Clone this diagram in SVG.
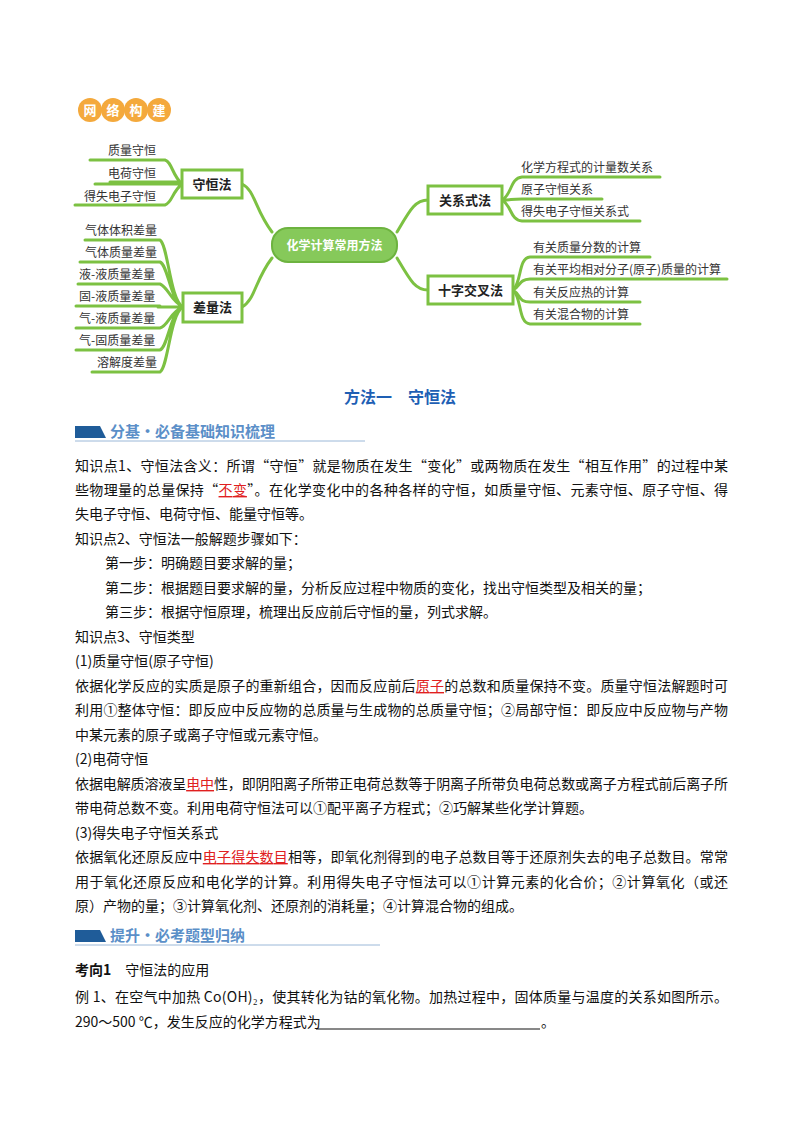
<svg xmlns="http://www.w3.org/2000/svg" width="800" height="1132" viewBox="0 0 800 1132">
<style>
.g{fill:none;stroke:#7cc142;stroke-width:3;stroke-linecap:round}
.box{fill:#fff;stroke:#7cc142;stroke-width:3}
.nb{font-family:"Noto Sans CJK SC",sans-serif;font-size:13px;font-weight:bold;fill:#222;text-anchor:middle}
.lf{font-family:"Noto Sans CJK SC",sans-serif;font-size:12px;fill:#333}
.t{font-family:"Noto Sans CJK SC","Liberation Serif",serif;font-size:14px;fill:#111}
.r{fill:#e02020;text-decoration:underline}
.ban{font-family:"Noto Sans CJK SC",serif;font-size:15px;font-weight:bold;fill:#5b8fc8}
</style>
<rect width="800" height="1132" fill="#fff"/>
<g id="logo">
<circle cx="90" cy="110" r="12" fill="#f4a93c"/><circle cx="113" cy="110" r="12" fill="#f4a93c"/><circle cx="136" cy="110" r="12" fill="#f4a93c"/><circle cx="159" cy="110" r="12" fill="#f4a93c"/>
<g font-family="Noto Sans CJK SC,sans-serif" font-size="13" font-weight="bold" fill="#fff" text-anchor="middle"><text x="90" y="115">网</text><text x="113" y="115">络</text><text x="136" y="115">构</text><text x="159" y="115">建</text></g>
</g>
<g id="connectors">
<path class="g" d="M272 232 C255 210 255 190 242 184"/>
<path class="g" d="M272 258 C255 280 255 300 242 307"/>
<path class="g" d="M397 232 C410 210 415 200 428 200"/>
<path class="g" d="M397 258 C410 280 415 290 428 290"/>
<path class="g" d="M182 184 C172 175 172 162 165 160 M90 160 H165 M182 184 H95 M110 182 H182 M182 184 C172 192 172 203 165 205 M75 205 H165"/>
<path class="g" d="M183 307 C170 300 168 245 160 240 M183 307 C170 300 168 265 160 262 M183 307 C170 300 168 287 160 284 M183 307 H158 M183 307 C170 312 168 326 160 328 M183 307 C170 312 168 347 160 350 M183 307 C170 314 168 368 160 372 M85 240 H160 M80 262 H160 M78 284 H160 M76 306 H160 M76 328 H160 M76 350 H160 M92 372 H160"/>
<path class="g" d="M502 200 C512 195 510 178 522 177 M502 200 C512 200 510 199 522 199 M502 200 C512 206 510 220 522 221 M522 177 H660 M522 199 H602 M522 221 H640"/>
<path class="g" d="M513 290 C522 282 518 258 530 257 M513 290 C522 285 518 280 530 279 M513 290 C522 296 518 302 530 302 M513 290 C522 298 518 323 530 324 M530 257 H650 M530 279 H727 M530 302 H640 M530 324 H640"/>
</g>
<g id="center"><rect x="272" y="228" width="125" height="34" rx="16" fill="#86c95a" stroke="#6db33f" stroke-width="2"/><text x="334.5" y="250" class="nb" fill="#fff" style="fill:#fff;font-size:12px">化学计算常用方法</text></g>
<g id="shouheng"><rect class="box" x="182" y="170" width="60" height="28"/><text class="nb" x="212" y="189">守恒法</text></g>
<g id="chaliang"><rect class="box" x="183" y="293" width="59" height="29"/><text class="nb" x="212.5" y="312">差量法</text></g>
<g id="guanxi"><rect class="box" x="428" y="186" width="74" height="28"/><text class="nb" x="465" y="205">关系式法</text></g>
<g id="shizi"><rect class="box" x="428" y="276" width="85" height="28"/><text class="nb" x="470.5" y="295">十字交叉法</text></g>
<g id="leaves">
<text class="lf" x="108" y="155">质量守恒</text><text class="lf" x="108" y="178">电荷守恒</text><text class="lf" x="84" y="201">得失电子守恒</text>
<text class="lf" x="85" y="235">气体体积差量</text><text class="lf" x="85" y="257">气体质量差量</text><text class="lf" x="79" y="279">液-液质量差量</text><text class="lf" x="79" y="301">固-液质量差量</text><text class="lf" x="79" y="323">气-液质量差量</text><text class="lf" x="79" y="345">气-固质量差量</text><text class="lf" x="97" y="367">溶解度差量</text>
<text class="lf" x="521" y="172">化学方程式的计量数关系</text><text class="lf" x="521" y="194">原子守恒关系</text><text class="lf" x="521" y="216">得失电子守恒关系式</text>
<text class="lf" x="533" y="252">有关质量分数的计算</text><text class="lf" x="533" y="274">有关平均相对分子(原子)质量的计算</text><text class="lf" x="533" y="297">有关反应热的计算</text><text class="lf" x="533" y="319">有关混合物的计算</text>
</g>
<text x="400" y="403" text-anchor="middle" font-family="Noto Sans CJK SC,serif" font-size="16" font-weight="bold" fill="#1e5fb4">方法一　守恒法</text>
<g id="banner1"><polygon points="75,426 100,426 106,438 75,438" fill="#1f5c99"/><line x1="75" y1="441" x2="365" y2="441" stroke="#9bb8d8" stroke-width="1"/><text class="ban" x="110" y="437">分基·必备基础知识梳理</text></g>
<g id="body">
<text class="t" x="75" y="471" textLength="653" lengthAdjust="spacing">知识点1、守恒法含义：所谓“守恒”就是物质在发生“变化”或两物质在发生“相互作用”的过程中某</text>
<text class="t" x="75" y="495" textLength="653" lengthAdjust="spacing">些物理量的总量保持“<tspan class="r">不变</tspan>”。在化学变化中的各种各样的守恒，如质量守恒、元素守恒、原子守恒、得</text>
<text class="t" x="75" y="519">失电子守恒、电荷守恒、能量守恒等。</text>
<text class="t" x="75" y="544">知识点2、守恒法一般解题步骤如下：</text>
<text class="t" x="105" y="568">第一步：明确题目要求解的量；</text>
<text class="t" x="105" y="593">第二步：根据题目要求解的量，分析反应过程中物质的变化，找出守恒类型及相关的量；</text>
<text class="t" x="105" y="617">第三步：根据守恒原理，梳理出反应前后守恒的量，列式求解。</text>
<text class="t" x="75" y="642">知识点3、守恒类型</text>
<text class="t" x="75" y="666">(1)质量守恒(原子守恒)</text>
<text class="t" x="75" y="691" textLength="653" lengthAdjust="spacing">依据化学反应的实质是原子的重新组合，因而反应前后<tspan class="r">原子</tspan>的总数和质量保持不变。质量守恒法解题时可</text>
<text class="t" x="75" y="715" textLength="653" lengthAdjust="spacing">利用①整体守恒：即反应中反应物的总质量与生成物的总质量守恒；②局部守恒：即反应中反应物与产物</text>
<text class="t" x="75" y="740">中某元素的原子或离子守恒或元素守恒。</text>
<text class="t" x="75" y="764">(2)电荷守恒</text>
<text class="t" x="75" y="789" textLength="653" lengthAdjust="spacing">依据电解质溶液呈<tspan class="r">电中</tspan>性，即阴阳离子所带正电荷总数等于阴离子所带负电荷总数或离子方程式前后离子所</text>
<text class="t" x="75" y="813">带电荷总数不变。利用电荷守恒法可以①配平离子方程式；②巧解某些化学计算题。</text>
<text class="t" x="75" y="838">(3)得失电子守恒关系式</text>
<text class="t" x="75" y="862" textLength="653" lengthAdjust="spacing">依据氧化还原反应中<tspan class="r">电子得失数目</tspan>相等，即氧化剂得到的电子总数目等于还原剂失去的电子总数目。常常</text>
<text class="t" x="75" y="887" textLength="653" lengthAdjust="spacing">用于氧化还原反应和电化学的计算。利用得失电子守恒法可以①计算元素的化合价；②计算氧化（或还</text>
<text class="t" x="75" y="911">原）产物的量；③计算氧化剂、还原剂的消耗量；④计算混合物的组成。</text>
</g>
<g id="banner2"><polygon points="75,930 100,930 106,942 75,942" fill="#1f5c99"/><line x1="75" y1="945" x2="380" y2="945" stroke="#9bb8d8" stroke-width="1"/><text class="ban" x="110" y="941">提升·必考题型归纳</text></g>
<g id="q">
<text class="t" x="75" y="975"><tspan font-weight="bold">考向1</tspan>　守恒法的应用</text>
<text class="t" x="75" y="1002" textLength="653" lengthAdjust="spacing">例 1、在空气中加热 Co(OH)₂，使其转化为钴的氧化物。加热过程中，固体质量与温度的关系如图所示。</text>
<text class="t" x="75" y="1027">290～500 ℃，发生反应的化学方程式为</text>
<line x1="316" y1="1029" x2="540" y2="1029" stroke="#111" stroke-width="1"/>
<text class="t" x="541" y="1027">。</text>
</g>
</svg>
